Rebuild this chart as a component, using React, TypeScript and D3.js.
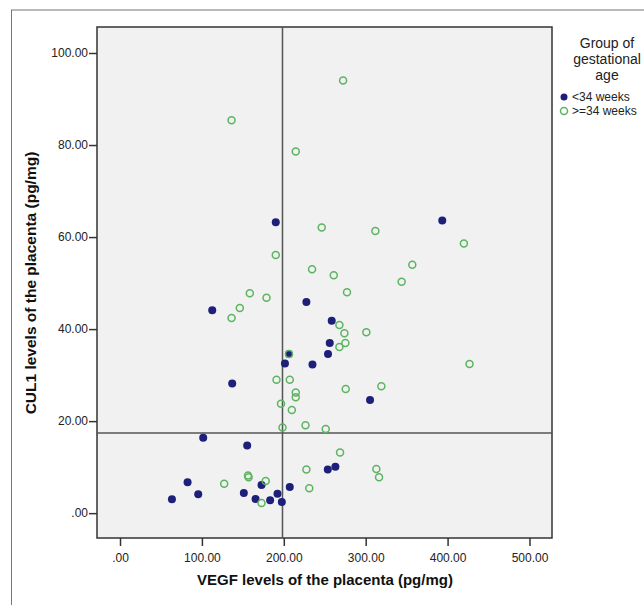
import * as d3 from 'd3';

// <34 weeks
const vegfLow = [393.5, 190.2, 112.6, 227.6, 258.5, 256.1, 254, 206.3, 201.4, 235, 137, 305.3, 101.6, 155.3, 253.7, 263, 82.5, 172.8, 207.3, 63.4, 95.5, 151.2, 165.5, 183.3, 192.3, 197.6];
const cul1Low = [63.6, 63.2, 44.1, 45.9, 41.8, 37.0, 34.6, 34.6, 32.5, 32.3, 28.2, 24.6, 16.4, 14.7, 9.5, 10.1, 6.7, 6.1, 5.7, 3.0, 4.1, 4.4, 3.1, 2.8, 4.2, 2.4];

// >=34 weeks
const vegfHigh = [272.4, 136.2, 214.6, 246.3, 311.8, 419.9, 190.2, 356.9, 234.5, 261, 343.9, 277.2, 158.5, 178.9, 146.3, 136.2, 267.9, 274, 300.8, 275.2, 267.9, 206.3, 426.8, 191.1, 207.3, 275.6, 319.1, 214.6, 214.6, 196.6, 209.8, 198.4, 226.5, 251.2, 268.7, 227.6, 313, 316.3, 156.3, 157, 127.2, 177.9, 231.1, 172.8];
const cul1High = [94.0, 85.4, 78.6, 62.1, 61.3, 58.6, 56.1, 54.0, 53.0, 51.7, 50.3, 48.0, 47.8, 46.8, 44.6, 42.4, 40.9, 39.1, 39.3, 37.0, 36.1, 34.6, 32.4, 29.0, 29.0, 27.0, 27.6, 26.2, 25.2, 23.8, 22.4, 18.6, 19.1, 18.3, 13.2, 9.5, 9.6, 7.8, 8.2, 7.8, 6.4, 7.0, 5.4, 2.2];

const xTicks = [0, 100, 200, 300, 400, 500];
const yTicks = [0, 20, 40, 60, 80, 100];
const refX = 198.4;
const refY = 17.4;

const legendTitle = ['Group of', 'gestational', 'age'];
const legendLabels = ['<34 weeks', '>=34 weeks'];

const font = "'Liberation Sans', Arial, sans-serif";
const blue = '#1e1f78';
const green = '#5cb460';

const fmt = (v: number) => (v === 0 ? '.00' : v.toFixed(2));

export default function App() {
	const width = 644;
	const height = 605;
	const plot = { left: 97, top: 27, right: 552, bottom: 538 };

	const x = d3.scaleLinear().domain([-28.1, 527.5]).range([plot.left, plot.right]);
	const y = d3.scaleLinear().domain([-5.4, 105.65]).range([plot.bottom, plot.top]);

	const low = vegfLow.map((v, i) => [v, cul1Low[i]]);
	const high = vegfHigh.map((v, i) => [v, cul1High[i]]);

	return (
		<svg
			width={width}
			height={height}
			style={{ position: 'absolute', left: 0, top: 0, background: '#fff' }}
		>
			{/* outer frame */}
			<rect x={11.5} y={10} width={width} height={height} fill='#fff' stroke='#777' strokeWidth='1' />

			{/* plot area */}
			<rect
				x={plot.left}
				y={plot.top}
				width={plot.right - plot.left}
				height={plot.bottom - plot.top}
				fill='#f1f1f1'
				stroke='#333'
				strokeWidth='1.5'
			/>

			{/* x axis */}
			<g
				transform={`translate(0,${plot.bottom})`}
				ref={(node) => {
					if (!node) return;
					const g = d3.select(node);
					g.call(d3.axisBottom(x).tickValues(xTicks).tickFormat((d) => fmt(+d)).tickSize(8).tickSizeOuter(0));
					g.select('.domain').remove();
					g.selectAll('line').attr('stroke', '#333').attr('stroke-width', 1.5);
					g.selectAll('text').attr('font-family', font).attr('font-size', 12).attr('fill', '#222').attr('dy', '1.05em');
				}}
			/>

			{/* y axis */}
			<g
				transform={`translate(${plot.left},0)`}
				ref={(node) => {
					if (!node) return;
					const g = d3.select(node);
					g.call(d3.axisLeft(y).tickValues(yTicks).tickFormat((d) => fmt(+d)).tickSize(8).tickSizeOuter(0));
					g.select('.domain').remove();
					g.selectAll('line').attr('stroke', '#333').attr('stroke-width', 1.5);
					g.selectAll('text').attr('font-family', font).attr('font-size', 12).attr('fill', '#222').attr('x', -9);
				}}
			/>

			{/* reference lines */}
			<line x1={x(refX)} x2={x(refX)} y1={plot.top} y2={plot.bottom} stroke='#555' strokeWidth='1.5' />
			<line x1={plot.left} x2={plot.right} y1={y(refY)} y2={y(refY)} stroke='#555' strokeWidth='1.5' />

			{/* <34 weeks */}
			{low.map(([vx, vy], i) => (
				<circle key={'l' + i} cx={x(vx)} cy={y(vy)} r={4} fill={blue} />
			))}

			{/* >=34 weeks */}
			{high.map(([vx, vy], i) => (
				<circle key={'h' + i} cx={x(vx)} cy={y(vy)} r={3.5} fill='none' stroke={green} strokeWidth='1.5' />
			))}

			{/* axis titles */}
			<text x={325} y={585} textAnchor='middle' fontFamily={font} fontSize='15' fontWeight='bold' fill='#111'>
				VEGF levels of the placenta (pg/mg)
			</text>
			<text
				transform={`translate(36,${283}) rotate(-90)`}
				textAnchor='middle'
				fontFamily={font}
				fontSize='15.5'
				fontWeight='bold'
				fill='#111'
			>
				CUL1 levels of the placenta (pg/mg)
			</text>

			{/* legend */}
			{legendTitle.map((t, i) => (
				<text key={t} x={607} y={48 + i * 16} textAnchor='middle' fontFamily={font} fontSize='14' fill='#222'>
					{t}
				</text>
			))}
			<circle cx={564} cy={97} r={3.5} fill={blue} />
			<circle cx={564} cy={111} r={3.5} fill='none' stroke={green} strokeWidth='1.5' />
			{legendLabels.map((t, i) => (
				<text key={t} x={572} y={101 + i * 14} fontFamily={font} fontSize='12' fill='#222'>
					{t}
				</text>
			))}
		</svg>
	);
}
